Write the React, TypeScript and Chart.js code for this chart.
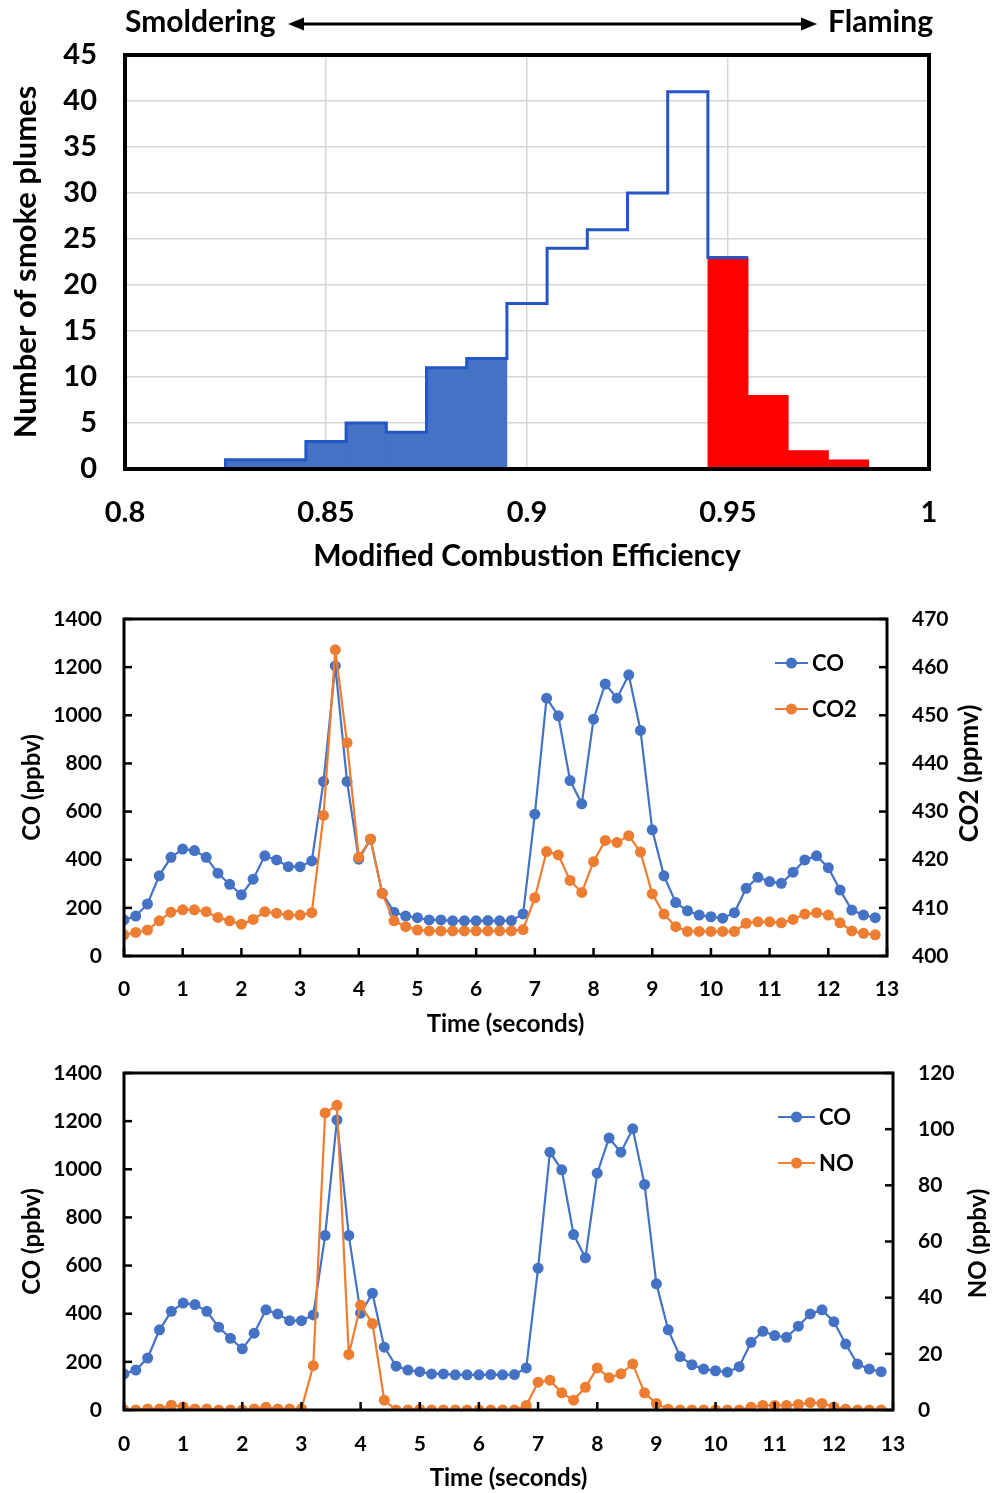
import React, { useEffect, useRef } from 'react';
import { Chart, registerables } from 'chart.js';

Chart.register(...registerables);

const FONT = 'Lato, "Open Sans", "DejaVu Sans", sans-serif';
const TEXT = '#000000';
const BLUE = '#4472C4';
const OUTLINE_BLUE = '#2457C5';
const RED = '#FF0000';
const ORANGE = '#ED7D31';

// ---------- Histogram (top) ----------
const mceBinCenters = [0.81, 0.82, 0.83, 0.84, 0.85, 0.86, 0.87, 0.88, 0.89, 0.90, 0.91, 0.92, 0.93, 0.94, 0.95, 0.96, 0.97, 0.98, 0.99];
const plumeCounts = [0, 0, 1, 1, 3, 5, 4, 11, 12, 18, 24, 26, 30, 41, 23, 8, 2, 1, 0];
const mceBinWidth = 0.01;
const smolderingUpper = 0.895;
const flamingLower = 0.945;
const mceTicks = [0.8, 0.85, 0.9, 0.95, 1];
const mceTickLabels = ['0.8', '0.85', '0.9', '0.95', '1'];

// ---------- Time series (middle & bottom) ----------
const timeSeconds = [
  0, 0.2, 0.4, 0.6, 0.8, 1.0, 1.2, 1.4, 1.6, 1.8,
  2.0, 2.2, 2.4, 2.6, 2.8, 3.0, 3.2, 3.4, 3.6, 3.8,
  4.0, 4.2, 4.4, 4.6, 4.8, 5.0, 5.2, 5.4, 5.6, 5.8,
  6.0, 6.2, 6.4, 6.6, 6.8, 7.0, 7.2, 7.4, 7.6, 7.8,
  8.0, 8.2, 8.4, 8.6, 8.8, 9.0, 9.2, 9.4, 9.6, 9.8,
  10.0, 10.2, 10.4, 10.6, 10.8, 11.0, 11.2, 11.4, 11.6, 11.8,
  12.0, 12.2, 12.4, 12.6, 12.8,
];
const coPpbv = [
  150, 166, 216, 333, 410, 444, 438, 410, 344, 298,
  254, 319, 416, 399, 371, 371, 395, 725, 1205, 725,
  402, 485, 261, 182, 166, 159, 150, 150, 146, 146,
  146, 147, 146, 147, 175, 589, 1071, 998, 729, 632,
  984, 1130, 1071, 1168, 937, 524, 333, 222, 188, 170,
  163, 157, 180, 281, 327, 309, 302, 348, 399, 416,
  367, 274, 191, 170, 159,
];
const co2Ppmv = [
  404.4, 404.9, 405.4, 407.3, 409.1, 409.6, 409.6, 409.2, 408.0, 407.3,
  406.6, 407.6, 409.2, 408.9, 408.5, 408.5, 409.0, 429.2, 463.6, 444.3,
  420.5, 424.3, 413.0, 407.3, 406.1, 405.4, 405.2, 405.2, 405.2, 405.2,
  405.2, 405.2, 405.2, 405.2, 405.5, 412.1, 421.7, 421.0, 415.7, 413.2,
  419.6, 424.0, 423.6, 425.0, 421.6, 412.9, 408.7, 406.1, 405.1, 405.1,
  405.1, 405.1, 405.1, 406.8, 407.1, 407.1, 406.9, 407.6, 408.7, 409.0,
  408.5, 406.9, 405.2, 404.7, 404.4,
];
const noPpbv = [
  0, 0, 0.4, 0.4, 1.7, 1.1, 0.4, 0.4, 0, 0,
  0, 0.4, 1.0, 0.4, 0.4, 0.4, 15.8, 105.8, 108.5, 19.8,
  37.3, 30.8, 3.5, 0, 0, 0.2, 0, 0, 0, 0,
  0, 0, 0, 0, 1.6, 9.9, 10.6, 6.1, 3.5, 8.1,
  15.0, 11.5, 12.9, 16.4, 6.1, 2.3, 0.3, 0, 0, 0,
  0, 0, 0, 1.0, 1.6, 1.6, 1.6, 2.0, 2.6, 2.3,
  1.1, 0.3, 0, 0, 0,
];

type LegendItem = { label: string; color: string };
type DecorCfg = {
  frameWidth: number;
  innerTicks?: boolean;
  legend?: { items: LegendItem[]; dxLine: number; lineLen: number; dyFirst: number; dyStep: number; fontSize: number };
  rightTitle?: { text: string; dx: number; dy: number; fontSize: number };
  header?: boolean;
};

const fixVertical = (w: number) => (s: any) => {
  s.width = w;
  s.paddingTop = 0;
  s.paddingBottom = 0;
};

function makeDecor(cfg: DecorCfg) {
  return {
    id: 'decor',
    afterDraw(chart: any) {
      const ctx = chart.ctx as CanvasRenderingContext2D;
      const a = chart.chartArea;
      ctx.save();
      if (cfg.innerTicks) {
        ctx.strokeStyle = '#000';
        ctx.lineWidth = 2.5;
        const len = 8;
        Object.keys(chart.scales).forEach((id) => {
          const s = chart.scales[id];
          s.ticks.forEach((t: any) => {
            const p = s.getPixelForValue(t.value);
            ctx.beginPath();
            if (s.position === 'bottom') {
              ctx.moveTo(p, a.bottom);
              ctx.lineTo(p, a.bottom - len);
            } else if (s.position === 'left') {
              ctx.moveTo(a.left, p);
              ctx.lineTo(a.left + len, p);
            } else if (s.position === 'right') {
              ctx.moveTo(a.right, p);
              ctx.lineTo(a.right - len, p);
            }
            ctx.stroke();
          });
        });
      }
      ctx.strokeStyle = '#000';
      ctx.lineWidth = cfg.frameWidth;
      ctx.strokeRect(a.left, a.top, a.right - a.left, a.bottom - a.top);

      if (cfg.legend) {
        const L = cfg.legend;
        ctx.font = `bold ${L.fontSize}px ${FONT}`;
        ctx.textBaseline = 'middle';
        ctx.textAlign = 'left';
        L.items.forEach((it, i) => {
          const y = a.top + L.dyFirst + i * L.dyStep;
          const x0 = a.right - L.dxLine;
          ctx.strokeStyle = it.color;
          ctx.lineWidth = 2.2;
          ctx.beginPath();
          ctx.moveTo(x0, y);
          ctx.lineTo(x0 + L.lineLen, y);
          ctx.stroke();
          ctx.fillStyle = it.color;
          ctx.beginPath();
          ctx.arc(x0 + L.lineLen / 2, y, 5.5, 0, Math.PI * 2);
          ctx.fill();
          ctx.fillStyle = TEXT;
          ctx.fillText(it.label, x0 + L.lineLen + 4, y + 1);
        });
      }

      if (cfg.rightTitle) {
        const R = cfg.rightTitle;
        ctx.font = `bold ${R.fontSize}px ${FONT}`;
        ctx.fillStyle = TEXT;
        ctx.textAlign = 'center';
        ctx.textBaseline = 'middle';
        ctx.translate(a.right + R.dx, (a.top + a.bottom) / 2 + R.dy);
        ctx.rotate(-Math.PI / 2);
        ctx.fillText(R.text, 0, 0);
        ctx.setTransform(1, 0, 0, 1, 0, 0);
      }

      if (cfg.header) {
        const y = 24;
        ctx.font = `bold 30px ${FONT}`;
        ctx.fillStyle = TEXT;
        ctx.textBaseline = 'middle';
        ctx.textAlign = 'left';
        ctx.fillText('Smoldering', a.left, y - 2);
        ctx.textAlign = 'right';
        ctx.fillText('Flaming', a.right + 4, y - 2);
        const x1 = a.left + 163;
        const x2 = a.right - 112;
        ctx.strokeStyle = '#000';
        ctx.lineWidth = 3;
        ctx.beginPath();
        ctx.moveTo(x1 + 12, y);
        ctx.lineTo(x2 - 12, y);
        ctx.stroke();
        ctx.fillStyle = '#000';
        ctx.beginPath();
        ctx.moveTo(x1, y);
        ctx.lineTo(x1 + 16, y - 6.5);
        ctx.lineTo(x1 + 16, y + 6.5);
        ctx.closePath();
        ctx.fill();
        ctx.beginPath();
        ctx.moveTo(x2, y);
        ctx.lineTo(x2 - 16, y - 6.5);
        ctx.lineTo(x2 - 16, y + 6.5);
        ctx.closePath();
        ctx.fill();
      }
      ctx.restore();
    },
  };
}

function histogramConfig(): any {
  const half = mceBinWidth / 2;
  const bars = mceBinCenters.map((c, i) => ({ x: c, y: plumeCounts[i] }));
  const colors = mceBinCenters.map((c) =>
    c < smolderingUpper ? BLUE : c > flamingLower ? RED : 'rgba(0,0,0,0)'
  );
  // stepped outline: from axis start through the smoldering + middle bins and first flaming bin
  const outline: any[] = [{ x: mceTicks[0], y: 0 }];
  let firstFlaming = -1;
  mceBinCenters.forEach((c, i) => {
    if (c < flamingLower) outline.push({ x: c - half, y: plumeCounts[i] });
    else if (firstFlaming < 0) {
      firstFlaming = i;
      outline.push({ x: c - half, y: plumeCounts[i] });
      outline.push({ x: c + half, y: plumeCounts[i] });
    }
  });
  const lastNonZero = plumeCounts.reduce((m, v, i) => (v > 0 ? i : m), 0);
  outline.push({ x: mceBinCenters[lastNonZero] + mceBinWidth * 0.75, y: null });
  outline.push({ x: mceBinCenters[lastNonZero] + half, y: 0 });
  outline.push({ x: mceTicks[mceTicks.length - 1], y: 0 });

  return {
    type: 'bar',
    data: {
      datasets: [
        {
          type: 'line',
          data: outline,
          borderColor: OUTLINE_BLUE,
          borderWidth: 3,
          pointRadius: 0,
          stepped: true,
          fill: false,
          spanGaps: false,
          order: 0,
        },
        {
          type: 'bar',
          data: bars,
          backgroundColor: colors,
          borderWidth: 0,
          barPercentage: 1,
          categoryPercentage: 1,
          order: 1,
        },
      ],
    },
    options: {
      responsive: false,
      animation: false,
      layout: { padding: { top: 55, right: 70, left: 0, bottom: 0 } },
      plugins: { legend: { display: false }, tooltip: { enabled: false } },
      scales: {
        x: {
          type: 'linear',
          min: mceTicks[0],
          max: mceTicks[mceTicks.length - 1],
          offset: false,
          afterFit: (s: any) => { s.height = 121; },
          grid: { color: '#d6d6d6', lineWidth: 1.5, drawTicks: false, offset: false },
          border: { display: false },
          ticks: {
            stepSize: 0.05,
            padding: 26,
            color: TEXT,
            font: { family: FONT, size: 29, weight: 'bold' },
            callback: (v: number) => {
              const i = mceTicks.findIndex((t) => Math.abs(t - v) < 1e-6);
              return i >= 0 ? mceTickLabels[i] : '';
            },
          },
          title: {
            display: true,
            text: 'Modified Combustion Efficiency',
            color: TEXT,
            font: { family: FONT, size: 30, weight: 'bold' },
            padding: { top: 0, bottom: 16 },
          },
        },
        y: {
          min: 0,
          max: 45,
          afterFit: fixVertical(125),
          grid: { color: '#d6d6d6', lineWidth: 1.5, drawTicks: false },
          border: { display: false },
          ticks: {
            stepSize: 5,
            padding: 28,
            color: TEXT,
            font: { family: FONT, size: 29, weight: 'bold' },
            callback: (v: number) => String(v),
          },
          title: {
            display: true,
            text: 'Number of smoke plumes',
            color: TEXT,
            font: { family: FONT, size: 31, weight: 'bold' },
            padding: { top: 7, bottom: 0 },
          },
        },
      },
    },
    plugins: [makeDecor({ frameWidth: 4, header: true })],
  };
}

function timeSeriesConfig(
  second: number[],
  secondLabel: string,
  secondTitle: string,
  secondRange: { min: number; max: number; step: number },
  geom: { top: number; xHeight: number; rightWidth: number; xTickPad: number; xTitlePad: number; legendDx: number; legendLen: number; titleDx: number; titleDy: number; titleSize: number }
): any {
  const tickFont = { family: FONT, size: 21, weight: 'bold' };
  const titleFont = { family: FONT, size: 24, weight: 'bold' };
  return {
    type: 'line',
    data: {
      datasets: [
        {
          label: 'CO',
          data: timeSeconds.map((t, i) => ({ x: t, y: coPpbv[i] })),
          borderColor: BLUE,
          backgroundColor: BLUE,
          pointBackgroundColor: BLUE,
          borderWidth: 2.2,
          pointRadius: 5.5,
          pointBorderWidth: 0,
          yAxisID: 'y',
          order: 1,
        },
        {
          label: secondLabel,
          data: timeSeconds.map((t, i) => ({ x: t, y: second[i] })),
          borderColor: ORANGE,
          backgroundColor: ORANGE,
          pointBackgroundColor: ORANGE,
          borderWidth: 2.2,
          pointRadius: 5.5,
          pointBorderWidth: 0,
          yAxisID: 'y1',
          order: 0,
        },
      ],
    },
    options: {
      responsive: false,
      animation: false,
      layout: { padding: { top: geom.top, right: 0, left: 0, bottom: 0 } },
      plugins: { legend: { display: false }, tooltip: { enabled: false } },
      scales: {
        x: {
          type: 'linear',
          min: 0,
          max: 13,
          afterFit: (s: any) => { s.height = geom.xHeight; },
          grid: { display: false, drawTicks: false },
          border: { display: false },
          ticks: { stepSize: 1, padding: geom.xTickPad, color: TEXT, font: tickFont, callback: (v: number) => String(v) },
          title: {
            display: true,
            text: 'Time (seconds)',
            color: TEXT,
            font: titleFont,
            padding: { top: 0, bottom: geom.xTitlePad },
          },
        },
        y: {
          position: 'left',
          min: 0,
          max: 1400,
          afterFit: fixVertical(124),
          grid: { display: false, drawTicks: false },
          border: { display: false },
          ticks: { stepSize: 200, padding: 22, color: TEXT, font: tickFont, callback: (v: number) => String(v) },
          title: {
            display: true,
            text: 'CO (ppbv)',
            color: TEXT,
            font: titleFont,
            padding: { top: 18, bottom: 0 },
          },
        },
        y1: {
          position: 'right',
          min: secondRange.min,
          max: secondRange.max,
          afterFit: fixVertical(geom.rightWidth),
          grid: { display: false, drawTicks: false },
          border: { display: false },
          ticks: { stepSize: secondRange.step, padding: 25, color: TEXT, font: tickFont, callback: (v: number) => String(v) },
        },
      },
    },
    plugins: [
      makeDecor({
        frameWidth: 3,
        innerTicks: true,
        legend: {
          items: [
            { label: 'CO', color: BLUE },
            { label: secondLabel, color: ORANGE },
          ],
          dxLine: geom.legendDx,
          lineLen: geom.legendLen,
          dyFirst: 44,
          dyStep: 46,
          fontSize: 22,
        },
        rightTitle: { text: secondTitle, dx: geom.titleDx, dy: geom.titleDy, fontSize: geom.titleSize },
      }),
    ],
  };
}

function ChartCanvas({ top, height, make }: { top: number; height: number; make: () => any }) {
  const ref = useRef<HTMLCanvasElement | null>(null);
  useEffect(() => {
    if (!ref.current) return;
    const chart = new Chart(ref.current, make());
    return () => chart.destroy();
  }, []);
  return (
    <canvas
      ref={ref}
      width={999}
      height={height}
      style={{ position: 'absolute', left: 0, top, width: 999, height, display: 'block' }}
    />
  );
}

export default function App() {
  return (
    <div style={{ position: 'absolute', left: 0, top: 0, width: 999, height: 1493, background: '#fff', overflow: 'hidden' }}>
      <ChartCanvas top={0} height={590} make={histogramConfig} />
      <ChartCanvas
        top={590}
        height={460}
        make={() =>
          timeSeriesConfig(co2Ppmv, 'CO2', 'CO2 (ppmv)', { min: 400, max: 470, step: 10 }, {
            top: 29, xHeight: 94, rightWidth: 112, xTickPad: 21, xTitlePad: 11,
            legendDx: 112, legendLen: 33, titleDx: 83, titleDy: -14, titleSize: 26,
          })
        }
      />
      <ChartCanvas
        top={1050}
        height={443}
        make={() =>
          timeSeriesConfig(noPpbv, 'NO', 'NO (ppbv)', { min: 0, max: 120, step: 20 }, {
            top: 23, xHeight: 83, rightWidth: 106, xTickPad: 22, xTitlePad: 0,
            legendDx: 115, legendLen: 37, titleDx: 85, titleDy: 2, titleSize: 24,
          })
        }
      />
    </div>
  );
}
